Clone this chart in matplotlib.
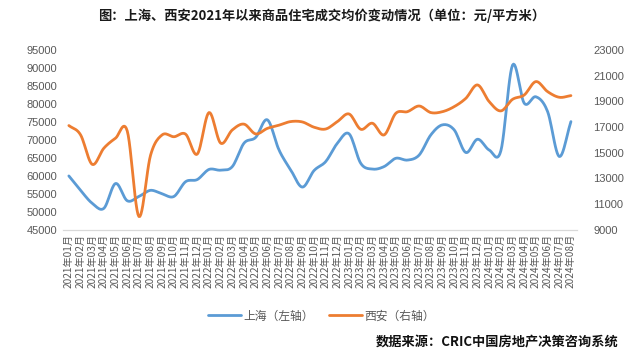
import matplotlib
matplotlib.use('Agg')
import matplotlib.pyplot as plt
import numpy as np

plt.rcParams['font.family'] = ['Noto Sans CJK SC', 'DejaVu Sans']

# 月份标签 2021年01月 - 2024年08月
months = [f'{y}年{m:02d}月' for y in range(2021, 2025) for m in range(1, 13)][:44]

# 上海（左轴），元/平方米
shanghai = [60000, 56000, 52400, 51000, 57900, 53100, 54300, 56000, 55000, 54300,
            58400, 59000, 61800, 61600, 62600, 69100, 70700, 75600, 67200, 61700,
            56900, 61500, 64000, 69100, 71700, 63500, 61900, 62600, 64900, 64400,
            65800, 71400, 74200, 72800, 66500, 70200, 67200, 67000, 90800, 80200,
            82000, 77900, 65400, 75100]

# 西安（右轴），元/平方米
xian = [17120, 16400, 14100, 15360, 16140, 16700, 10040, 14820, 16400, 16250,
        16450, 14900, 18130, 15750, 16780, 17230, 16470, 16900, 17150, 17430,
        17400, 16990, 16850, 17430, 18020, 16830, 17300, 16390, 18070, 18200,
        18640, 18130, 18200, 18590, 19240, 20280, 18980, 18260, 19160, 19500,
        20540, 19760, 19320, 19450]

blue = '#5B9BD5'
orange = '#ED7D31'
grey = '#595959'


def smooth(x, y, n=12):
    # Catmull-Rom 平滑, 类似 Excel 的平滑线
    x = np.asarray(x, float)
    y = np.asarray(y, float)
    px = np.concatenate([[2 * x[0] - x[1]], x, [2 * x[-1] - x[-2]]])
    py = np.concatenate([[2 * y[0] - y[1]], y, [2 * y[-1] - y[-2]]])
    xs, ys = [], []
    t = np.linspace(0, 1, n, endpoint=False)
    for i in range(1, len(px) - 2):
        for p, out in ((px, xs), (py, ys)):
            p0, p1, p2, p3 = p[i - 1], p[i], p[i + 1], p[i + 2]
            out.extend(0.5 * ((2 * p1) + (-p0 + p2) * t
                              + (2 * p0 - 5 * p1 + 4 * p2 - p3) * t ** 2
                              + (-p0 + 3 * p1 - 3 * p2 + p3) * t ** 3))
    xs.append(x[-1])
    ys.append(y[-1])
    return np.array(xs), np.array(ys)


fig = plt.figure(figsize=(6.43, 3.57), dpi=100)
ax = fig.add_axes([0.098, 0.356, 0.799, 0.504])
ax2 = ax.twinx()

idx = np.arange(len(months))
sx, sy = smooth(idx, shanghai)
ax.plot(sx, sy, color=blue, lw=2.0, solid_capstyle='round', label='上海（左轴）')
xx, xy = smooth(idx, xian)
ax2.plot(xx, xy, color=orange, lw=2.0, solid_capstyle='round', label='西安（右轴）')

ax.set_xlim(-0.5, len(months) - 0.5)
ax.set_ylim(45000, 95000)
ax.set_yticks(np.arange(45000, 95001, 5000))
ax2.set_ylim(9000, 23000)
ax2.set_yticks(np.arange(9000, 23001, 2000))

ax.set_xticks(idx)
ax.set_xticklabels(months, rotation=90, fontsize=7.3, color=grey)
ax.tick_params(axis='x', length=0, pad=3)
ax.tick_params(axis='y', length=0, labelsize=8, labelcolor=grey, pad=4)
ax2.tick_params(axis='y', length=0, labelsize=8, labelcolor=grey, pad=12)
for lab in ax.get_yticklabels() + ax2.get_yticklabels():
    lab.set_family(['Liberation Sans', 'DejaVu Sans'])

for a in (ax, ax2):
    for s in ('top', 'left', 'right'):
        a.spines[s].set_visible(False)
    a.spines['bottom'].set_color('#D9D9D9')

fig.text(0.5, 0.955, '图：上海、西安2021年以来商品住宅成交均价变动情况（单位：元/平方米）',
         ha='center', va='center', fontsize=9.5, fontweight='bold', color='#1a1a1a')

h1, l1 = ax.get_legend_handles_labels()
h2, l2 = ax2.get_legend_handles_labels()
fig.legend(h1 + h2, l1 + l2, loc='center', bbox_to_anchor=(0.5, 0.115), ncol=2,
           frameon=False, fontsize=8.5, labelcolor=grey, handlelength=2.8,
           columnspacing=1.3, handletextpad=0.2)

fig.text(0.962, 0.04, '数据来源：CRIC中国房地产决策咨询系统', ha='right', va='center',
         fontsize=9.5, fontweight='bold', color='#111111')

fig.savefig('out.png', dpi=100)
